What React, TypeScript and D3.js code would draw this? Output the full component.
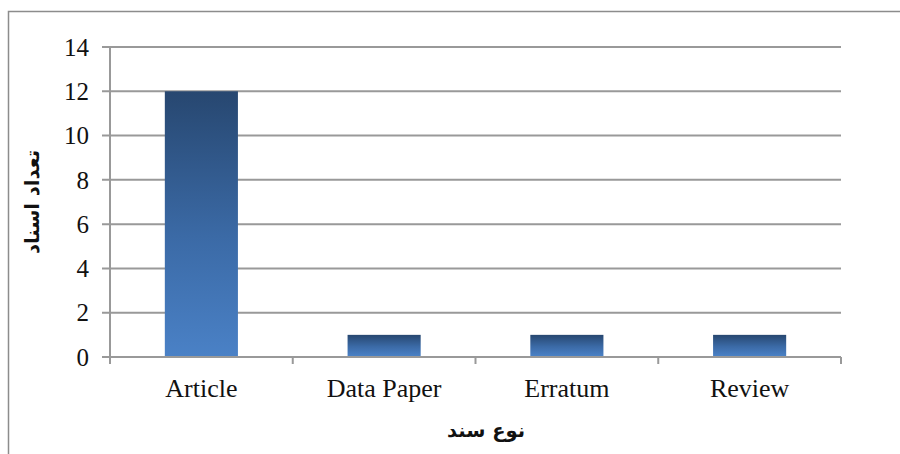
import React, { useEffect, useRef } from "react";
import * as d3 from "d3";

const categories: string[] = ["Article", "Data Paper", "Erratum", "Review"];
const counts: number[] = [12, 1, 1, 1];
const yTicks: number[] = [0, 2, 4, 6, 8, 10, 12, 14];
const xTitle = "نوع سند";
const yTitle = "تعداد اسناد";

const W = 900;
const H = 454;
const left = 110;
const right = 841;
const top = 47;
const bottom = 357;

export default function App() {
  const ref = useRef<SVGSVGElement | null>(null);

  useEffect(() => {
    const svg = d3.select(ref.current);
    svg.selectAll("*").remove();

    const defs = svg.append("defs");
    const grad = defs
      .append("linearGradient")
      .attr("id", "barFill")
      .attr("x1", 0)
      .attr("y1", 0)
      .attr("x2", 0)
      .attr("y2", 1);
    grad.append("stop").attr("offset", "0%").attr("stop-color", "#274770");
    grad.append("stop").attr("offset", "55%").attr("stop-color", "#3b6aa6");
    grad.append("stop").attr("offset", "100%").attr("stop-color", "#4a81c6");

    // chart frame
    svg
      .append("rect")
      .attr("x", 8.5)
      .attr("y", 11.5)
      .attr("width", W)
      .attr("height", H)
      .attr("fill", "#fff")
      .attr("stroke", "#8c8c8c")
      .attr("stroke-width", 1.5);

    const x = d3.scaleBand<string>().domain(categories).range([left, right]).paddingInner(0.6).paddingOuter(0.3);
    const xEdges = d3.scaleLinear().domain([0, categories.length]).range([left, right]);
    const y = d3.scaleLinear().domain([0, 14]).range([bottom, top]);

    const grey = "#999999";
    const serif = "'Liberation Serif', 'Times New Roman', serif";

    // horizontal gridlines and y ticks
    const gy = svg.append("g");
    yTicks.forEach((t) => {
      gy.append("line")
        .attr("x1", left - 8)
        .attr("x2", right)
        .attr("y1", y(t))
        .attr("y2", y(t))
        .attr("stroke", grey)
        .attr("stroke-width", 2);
      gy.append("text")
        .attr("x", 89)
        .attr("y", y(t))
        .attr("dy", "0.35em")
        .attr("text-anchor", "end")
        .attr("font-family", serif)
        .attr("font-size", 25)
        .attr("fill", "#111")
        .text(String(t));
    });

    // y axis line
    svg
      .append("line")
      .attr("x1", left)
      .attr("x2", left)
      .attr("y1", top)
      .attr("y2", bottom + 7)
      .attr("stroke", grey)
      .attr("stroke-width", 2);

    // x-axis category boundary ticks
    d3.range(categories.length + 1).forEach((i) => {
      svg
        .append("line")
        .attr("x1", xEdges(i))
        .attr("x2", xEdges(i))
        .attr("y1", bottom)
        .attr("y2", bottom + 7)
        .attr("stroke", grey)
        .attr("stroke-width", 2);
    });

    // bars
    svg
      .append("g")
      .selectAll("rect")
      .data(categories)
      .join("rect")
      .attr("x", (d) => x(d)!)
      .attr("width", x.bandwidth())
      .attr("y", (d, i) => y(counts[i]))
      .attr("height", (d, i) => y(0) - y(counts[i]) - 1)
      .attr("fill", "url(#barFill)");

    // category labels
    svg
      .append("g")
      .selectAll("text")
      .data(categories)
      .join("text")
      .attr("x", (d) => x(d)! + x.bandwidth() / 2)
      .attr("y", 397)
      .attr("text-anchor", "middle")
      .attr("font-family", serif)
      .attr("font-size", 26)
      .attr("fill", "#111")
      .text((d) => d);

    // axis titles
    svg
      .append("text")
      .attr("x", 486)
      .attr("y", 437)
      .attr("text-anchor", "middle")
      .attr("direction", "rtl")
      .attr("font-family", "'DejaVu Sans', sans-serif")
      .attr("font-weight", "bold")
      .attr("font-size", 19.5)
      .attr("fill", "#111")
      .text(xTitle);

    svg
      .append("text")
      .attr("transform", `translate(39, ${(top + bottom) / 2}) rotate(-90)`)
      .attr("text-anchor", "middle")
      .attr("direction", "rtl")
      .attr("font-family", "'DejaVu Sans', sans-serif")
      .attr("font-weight", "bold")
      .attr("font-size", 19.5)
      .attr("fill", "#111")
      .text(yTitle);
  }, []);

  return (
    <svg
      ref={ref}
      width={W}
      height={H}
      style={{ position: "absolute", left: 0, top: 0, display: "block" }}
    />
  );
}
